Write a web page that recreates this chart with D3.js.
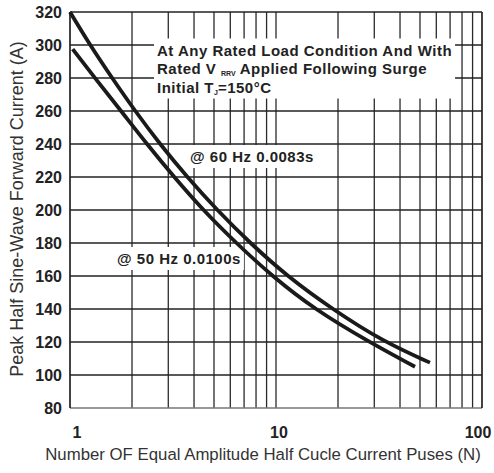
<!DOCTYPE html>
<html>
<head>
<meta charset="utf-8">
<script src="https://cdn.jsdelivr.net/npm/d3@7"></script>
<style>
  body { margin: 0; background: #fff; }
  svg { font-family: "Liberation Sans", Arial, sans-serif; }
</style>
</head>
<body>
<div id="chart"></div>
<script>
// surge curves: pulses N, peak current A
let upperN = [1, 1.25, 1.6, 2.07, 2.73, 3.7, 5.17, 7.48, 11.3, 18.7, 33.4, 55.9];
let upperA = [320, 300, 280, 260, 240, 220, 200, 180, 160, 140, 120, 107.5];
let lowerN = [1.03, 1.32, 1.77, 2.36, 3.2, 4.42, 6.4, 9.56, 15.3, 28.3, 47.3];
let lowerA = [297.5, 280, 260, 240, 220, 200, 180, 160, 140, 120, 105];

let yTicks = [80, 100, 120, 140, 160, 180, 200, 220, 240, 260, 280, 300, 320];
let xLabels = [1, 10, 100];
let xGrid = [2, 3, 4, 5, 6, 7, 8, 9, 10, 20, 30, 40, 50, 60, 70, 80, 90];

let W = 494, H = 473;
let pLeft = 70, pRight = 482, pTop = 12, pBottom = 408;

let svg = d3.select("#chart").append("svg")
  .attr("width", W)
  .attr("height", H);

let x = d3.scaleLog().domain([1, 100]).range([pLeft, pRight]);
let y = d3.scaleLinear().domain([80, 320]).range([pBottom, pTop]);

// grid
svg.append("g").selectAll("line")
  .data(xGrid)
  .enter().append("line")
  .attr("x1", d => x(d)).attr("x2", d => x(d))
  .attr("y1", pTop).attr("y2", pBottom)
  .attr("stroke", "#2a2a2a")
  .attr("stroke-width", 1.3);

svg.append("g").selectAll("line")
  .data(yTicks)
  .enter().append("line")
  .attr("x1", pLeft).attr("x2", pRight)
  .attr("y1", d => y(d)).attr("y2", d => y(d))
  .attr("stroke", d => d == 80 ? "#777" : "#222")
  .attr("stroke-width", 1.7);

svg.append("line")
  .attr("x1", pLeft).attr("x2", pLeft)
  .attr("y1", pTop).attr("y2", pBottom)
  .attr("stroke", "#222").attr("stroke-width", 1.7);
svg.append("line")
  .attr("x1", pRight).attr("x2", pRight)
  .attr("y1", pTop).attr("y2", pBottom)
  .attr("stroke", "#222").attr("stroke-width", 1.7);

// y tick labels
svg.append("g").selectAll("text")
  .data(yTicks)
  .enter().append("text")
  .attr("x", pLeft - 8)
  .attr("y", d => y(d))
  .attr("dy", "0.36em")
  .attr("text-anchor", "end")
  .attr("font-size", 16)
  .attr("font-weight", "bold")
  .attr("fill", "#222")
  .text(d => d);

// x tick labels
let xOff = [7, 3, -4];
svg.append("g").selectAll("text")
  .data(xLabels)
  .enter().append("text")
  .attr("x", (d, i) => x(d) + xOff[i])
  .attr("y", 438)
  .attr("text-anchor", "middle")
  .attr("font-size", 16)
  .attr("font-weight", "bold")
  .attr("fill", "#222")
  .text(d => d);

// axis titles
svg.append("text")
  .attr("transform", "translate(22.5,209) rotate(-90)")
  .attr("text-anchor", "middle")
  .attr("font-size", 18)
  .attr("fill", "#333")
  .text("Peak Half Sine-Wave Forward Current (A)");

svg.append("text")
  .attr("x", 263)
  .attr("y", 460)
  .attr("text-anchor", "middle")
  .attr("font-size", 16.8)
  .attr("fill", "#333")
  .text("Number OF Equal Amplitude Half Cucle Current Puses (N)");

// white boxes behind the notes
function whiteBox(g, pad) {
  let b = g.node().getBBox();
  g.insert("rect", ":first-child")
    .attr("x", b.x - pad).attr("y", b.y - pad)
    .attr("width", b.width + 2 * pad).attr("height", b.height + 2 * pad)
    .attr("fill", "#fff");
}

let note = svg.append("g")
  .attr("font-size", 15)
  .attr("letter-spacing", 0.5)
  .attr("font-weight", "bold")
  .attr("fill", "#222");
note.append("text").attr("x", 157).attr("y", 55.5)
  .text("At Any Rated Load Condition And With");
let l2 = note.append("text").attr("x", 157).attr("y", 73.5);
l2.append("tspan").text("Rated V ");
l2.append("tspan").attr("font-size", 7).attr("letter-spacing", 0).attr("dy", 2).text("RRV");
l2.append("tspan").attr("dy", -2).text(" Applied Following Surge");
let l3 = note.append("text").attr("x", 157).attr("y", 92.5);
l3.append("tspan").text("Initial T");
l3.append("tspan").attr("font-size", 7).attr("letter-spacing", 0).attr("dy", 2).text("J");
l3.append("tspan").attr("dy", -2).text("=150°C");
whiteBox(note, 3);

let lab60 = svg.append("g")
  .attr("font-size", 15).attr("letter-spacing", 0.5)
  .attr("font-weight", "bold").attr("fill", "#222");
lab60.append("text").attr("x", 190).attr("y", 162).text("@ 60 Hz 0.0083s");
whiteBox(lab60, 3);

let lab50 = svg.append("g")
  .attr("font-size", 15).attr("letter-spacing", 0.5)
  .attr("font-weight", "bold").attr("fill", "#222");
lab50.append("text").attr("x", 117).attr("y", 264).text("@ 50 Hz 0.0100s");
whiteBox(lab50, 3);

// curves
let line = d3.line()
  .x(d => x(d[0]))
  .y(d => y(d[1]))
  .curve(d3.curveBasis);

svg.append("path")
  .datum(d3.zip(upperN, upperA))
  .attr("d", line)
  .attr("fill", "none")
  .attr("stroke", "#1a1a1a")
  .attr("stroke-width", 3.8)
  .attr("stroke-linecap", "butt");

svg.append("path")
  .datum(d3.zip(lowerN, lowerA))
  .attr("d", line)
  .attr("fill", "none")
  .attr("stroke", "#1a1a1a")
  .attr("stroke-width", 3.8)
  .attr("stroke-linecap", "butt");
</script>
</body>
</html>
